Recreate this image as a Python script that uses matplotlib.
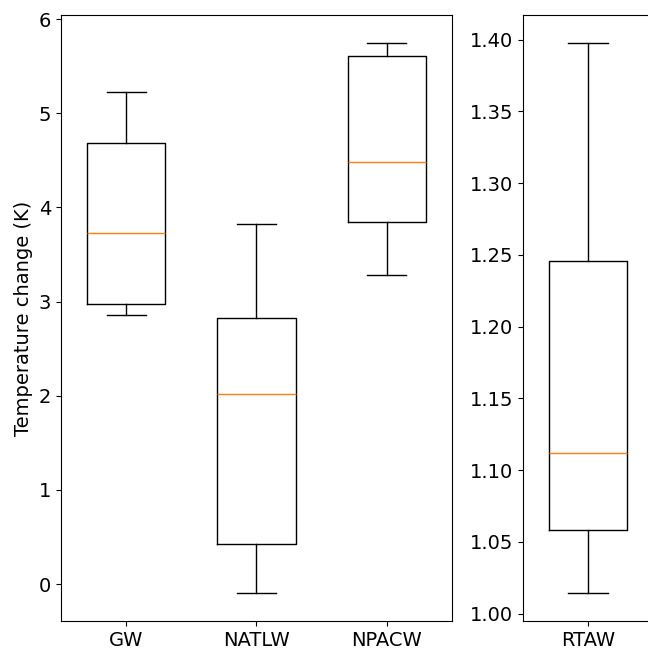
import matplotlib.pyplot as plt

plt.rcParams["font.size"] = 14

left_labels = ["GW", "NATLW", "NPACW"]
left_whislo = [2.86, -0.10, 3.28]
left_q1 = [2.97, 0.43, 3.84]
left_med = [3.73, 2.02, 4.48]
left_q3 = [4.68, 2.83, 5.61]
left_whishi = [5.23, 3.82, 5.75]

right_labels = ["RTAW"]
right_whislo = [1.014]
right_q1 = [1.058]
right_med = [1.112]
right_q3 = [1.246]
right_whishi = [1.398]


def make_stats(labels, lo, q1, med, q3, hi):
    return [dict(label=l, whislo=a, q1=b, med=c, q3=d, whishi=e, fliers=[])
            for l, a, b, c, d, e in zip(labels, lo, q1, med, q3, hi)]


fig = plt.figure(figsize=(6.48, 6.48), dpi=100)
ax1 = fig.add_axes([0.0941, 0.0417, 0.6034, 0.935])
ax2 = fig.add_axes([0.8066, 0.0417, 0.2017, 0.935])

ax1.bxp(make_stats(left_labels, left_whislo, left_q1, left_med, left_q3, left_whishi),
        widths=0.6)
ax2.bxp(make_stats(right_labels, right_whislo, right_q1, right_med, right_q3, right_whishi),
        widths=0.6)

ax1.set_ylabel("Temperature change (K)")

fig.savefig("out.png", dpi=100)
